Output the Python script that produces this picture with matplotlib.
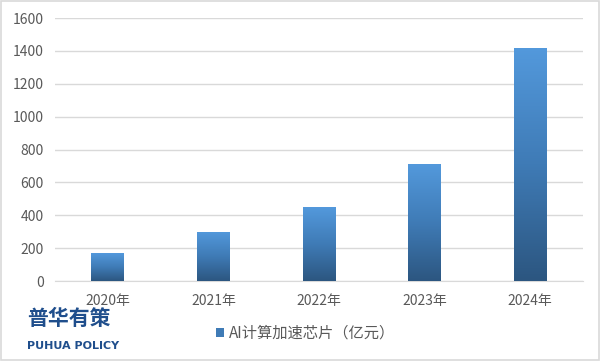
import numpy as np
import matplotlib
matplotlib.use("Agg")
import matplotlib.pyplot as plt
from matplotlib.colors import LinearSegmentedColormap
from matplotlib.patches import Rectangle

plt.rcParams["font.family"] = ["Noto Sans CJK SC", "DejaVu Sans"]

years = ["2020年", "2021年", "2022年", "2023年", "2024年"]
values = [170, 300, 450, 710, 1420]
series_name = "AI计算加速芯片（亿元）"

grad = LinearSegmentedColormap.from_list("bar", ["#2c5680", "#3f7bb6", "#5399dc"])

fig = plt.figure(figsize=(6.01, 3.61), dpi=100)
ax = fig.add_axes([0.0915, 0.2216, 0.8785, 0.7284])

x = np.arange(len(years))
bars = ax.bar(x, values, width=0.31, color="none", zorder=3)
g = np.linspace(0, 1, 256).reshape(-1, 1)
for b in bars:
    x0, y0 = b.get_x(), b.get_y()
    im = ax.imshow(g, cmap=grad, origin="lower", aspect="auto", zorder=3,
                   extent=[x0, x0 + b.get_width(), y0, y0 + b.get_height()])
    im.set_clip_path(b)

ax.set_xlim(-0.5, len(years) - 0.5)
ax.set_ylim(0, 1600)
ax.set_yticks(range(0, 1601, 200))
ax.set_xticks(x)
ax.set_xticklabels(years)
ax.grid(axis="y", color="#d9d9d9", linewidth=1, zorder=0)
for s in ["left", "right", "top"]:
    ax.spines[s].set_visible(False)
ax.spines["bottom"].set_color("#d9d9d9")
ax.tick_params(length=0, labelsize=10, colors="#595959")
ax.tick_params(axis="x", pad=9)
ax.tick_params(axis="y", pad=8)

# legend
leg_handle = Rectangle((0, 0), 1, 1, facecolor="#3f7bb6")
fig.legend([leg_handle], [series_name], loc="center", bbox_to_anchor=(0.508, 0.077),
           frameon=False, fontsize=11, handlelength=0.55, handleheight=0.55,
           handletextpad=0.3, labelcolor="#595959")

# logo
fig.text(0.045, 0.119, "普华有策", fontsize=15, fontweight="heavy", color="#1f4e8c",
         ha="left", va="center")
fig.text(0.045, 0.042, "PUHUA POLICY", fontsize=8, fontweight="bold", color="#1f4e8c",
         ha="left", va="center", family="DejaVu Sans")

# border
fig.patches.append(Rectangle((0.002, 0.003), 0.995, 0.993, transform=fig.transFigure,
                             fill=False, edgecolor="#d9d9d9", linewidth=1.2))

fig.savefig("out.png", dpi=100)
